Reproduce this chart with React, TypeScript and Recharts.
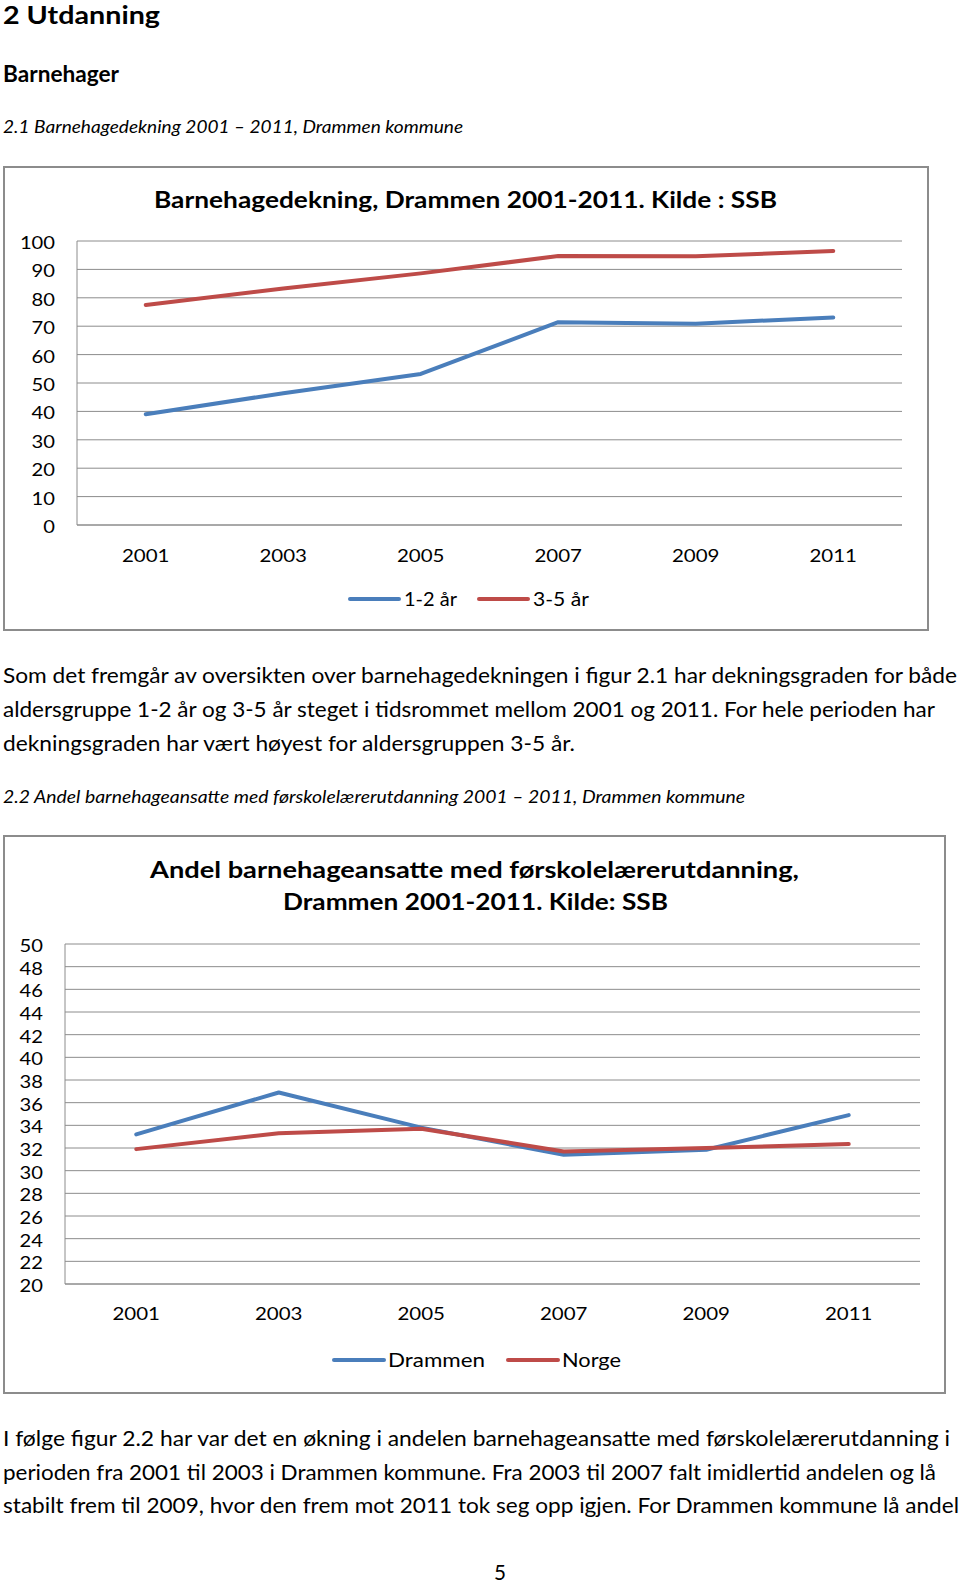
import React from "react";
import { LineChart, Line, XAxis, YAxis, CartesianGrid, Legend } from "recharts";

// figur 2.1 – barnehagedekning
const years = ["2001", "2003", "2005", "2007", "2009", "2011"];
const dekning12 = [39.0, 46.4, 53.2, 71.4, 70.9, 73.1];
const dekning35 = [77.5, 83.3, 88.6, 94.7, 94.6, 96.5];
const dekningTicks = [0, 10, 20, 30, 40, 50, 60, 70, 80, 90, 100];

// figur 2.2 – andel med førskolelærerutdanning
const drammen = [33.2, 36.9, 33.8, 31.4, 31.85, 34.9];
const norge = [31.9, 33.3, 33.7, 31.7, 32.0, 32.35];
const andelTicks = [20, 22, 24, 26, 28, 30, 32, 34, 36, 38, 40, 42, 44, 46, 48, 50];

const para1 = [
  "Som det fremgår av oversikten over barnehagedekningen i figur 2.1 har dekningsgraden for både",
  "aldersgruppe 1-2 år og 3-5 år steget i tidsrommet mellom 2001 og 2011. For hele perioden har",
  "dekningsgraden har vært høyest for aldersgruppen 3-5 år.",
];
const para1Widths = [954, 932, 572];
const para2 = [
  "I følge figur 2.2 har var det en økning i andelen barnehageansatte med førskolelærerutdanning i",
  "perioden fra 2001 til 2003 i Drammen kommune. Fra 2003 til 2007 falt imidlertid andelen og lå",
  "stabilt frem til 2009, hvor den frem mot 2011 tok seg opp igjen. For Drammen kommune lå andel",
];
const para2Widths = [947, 933, 956];

const FONT = "Lato, 'Open Sans', sans-serif";
const BLUE = "#4a7ebb";
const RED = "#be4b48";
const GRID = "#8c8c8c";

const rows1 = years.map((y, i) => ({ year: y, a: dekning12[i], b: dekning35[i] }));
const rows2 = years.map((y, i) => ({ year: y, drammen: drammen[i], norge: norge[i] }));

function T({ x, y, w, size, bold, italic, children }: any) {
  return (
    <text
      x={x}
      y={y}
      fontFamily={FONT}
      fontSize={size}
      fontWeight={bold ? 700 : 400}
      fontStyle={italic ? "italic" : "normal"}
      textLength={w}
      lengthAdjust="spacingAndGlyphs"
      fill="#000"
    >
      {children}
    </text>
  );
}

const YTick = ({ x, y, payload }: any) => {
  const s = String(payload.value);
  return (
    <text x={x} y={y} dy={8} textAnchor="end" fontFamily={FONT} fontSize={18} fill="#000"
      textLength={s.length * 11.7} lengthAdjust="spacingAndGlyphs">
      {s}
    </text>
  );
};

const XTick = ({ x, y, payload }: any) => (
  <text x={x} y={y} dy={7} textAnchor="middle" fontFamily={FONT} fontSize={18} fill="#000"
    textLength={47.5} lengthAdjust="spacingAndGlyphs">
    {payload.value}
  </text>
);

function legendContent(x0: number, textWidths: number[], lineLen: number, gap: number, itemGap: number, w: number) {
  return (props: any) => {
    let x = x0;
    const items = (props.payload ?? []).map((p: any, i: number) => {
      const lx = x;
      const tx = lx + lineLen + gap;
      x = tx + textWidths[i] + itemGap;
      return (
        <g key={p.value}>
          <line x1={lx} x2={lx + lineLen} y1={12} y2={12} stroke={p.color} strokeWidth={4} strokeLinecap="round" />
          <text x={tx} y={19} fontFamily={FONT} fontSize={19.5} fill="#000"
            textLength={textWidths[i]} lengthAdjust="spacingAndGlyphs">
            {p.value}
          </text>
        </g>
      );
    });
    return (
      <svg width={w} height={24} style={{ display: "block" }}>
        {items}
      </svg>
    );
  };
}

const boxStyle = (left: number, top: number, width: number, height: number): React.CSSProperties => ({
  position: "absolute",
  left,
  top,
  width,
  height,
  border: `2px solid ${GRID}`,
  boxSizing: "border-box",
});

export default function App() {
  return (
    <div style={{ position: "absolute", left: 0, top: 0, width: 960, height: 1584, background: "#fff" }}>
      <svg width={960} height={1584} style={{ position: "absolute", left: 0, top: 0 }}>
        <T x={3} y={24} w={157} size={25} bold>2 Utdanning</T>
        <T x={3} y={82} w={116} size={23} bold>Barnehager</T>
        <T x={3} y={133} w={460} size={17} italic>2.1 Barnehagedekning 2001 – 2011, Drammen kommune</T>

        <T x={154} y={208} w={623} size={23} bold>Barnehagedekning, Drammen 2001-2011. Kilde : SSB</T>

        {para1.map((l, i) => (
          <T key={l} x={3} y={683 + i * 34} w={para1Widths[i]} size={22}>{l}</T>
        ))}
        <T x={3} y={803} w={742} size={17} italic>
          2.2 Andel barnehageansatte med førskolelærerutdanning 2001 – 2011, Drammen kommune
        </T>

        <T x={150} y={878} w={649} size={23} bold>Andel barnehageansatte med førskolelærerutdanning,</T>
        <T x={283} y={910} w={385} size={23} bold>Drammen 2001-2011. Kilde: SSB</T>

        {para2.map((l, i) => (
          <T key={l} x={3} y={1446 + i * 33.7} w={para2Widths[i]} size={22}>{l}</T>
        ))}
        <T x={494} y={1580} w={12} size={22}>5</T>
      </svg>

      {/* figur 2.1 */}
      <div style={boxStyle(3, 166, 926, 465)}>
        <LineChart width={922} height={461} data={rows1} margin={{ top: 73, right: 25, bottom: 64, left: 0 }}>
          <CartesianGrid vertical={false} stroke={GRID} strokeWidth={1} />
          <XAxis dataKey="year" height={40} padding={{ left: 68.75, right: 68.75 }} tickLine={false}
            tickSize={0} tickMargin={30} axisLine={{ stroke: GRID }} tick={<XTick />} interval={0} />
          <YAxis width={72} domain={[0, 100]} ticks={dekningTicks} tickLine={false} tickSize={0}
            tickMargin={22} axisLine={{ stroke: GRID }} tick={<YTick />} interval={0} />
          <Line dataKey="a" name="1-2 år" stroke={BLUE} strokeWidth={4} dot={false}
            strokeLinecap="round" strokeLinejoin="round" isAnimationActive={false} />
          <Line dataKey="b" name="3-5 år" stroke={RED} strokeWidth={4} dot={false}
            strokeLinecap="round" strokeLinejoin="round" isAnimationActive={false} />
          <Legend layout="horizontal" verticalAlign="middle" align="center"
            wrapperStyle={{ left: 0, top: 419, width: 922, height: 24 }}
            content={legendContent(345, [53, 56], 49, 5, 22, 922)} />
        </LineChart>
      </div>

      {/* figur 2.2 */}
      <div style={boxStyle(3, 835, 943, 559)}>
        <LineChart width={939} height={555} data={rows2} margin={{ top: 107, right: 24, bottom: 68, left: 0 }}>
          <CartesianGrid vertical={false} stroke={GRID} strokeWidth={1} />
          <XAxis dataKey="year" height={40} padding={{ left: 71.25, right: 71.25 }} tickLine={false}
            tickSize={0} tickMargin={29} axisLine={{ stroke: GRID }} tick={<XTick />} interval={0} />
          <YAxis width={60} domain={[20, 50]} ticks={andelTicks} tickLine={false} tickSize={0}
            tickMargin={22} axisLine={{ stroke: GRID }} tick={<YTick />} interval={0} />
          <Line dataKey="drammen" name="Drammen" stroke={BLUE} strokeWidth={4} dot={false}
            strokeLinecap="round" strokeLinejoin="round" isAnimationActive={false} />
          <Line dataKey="norge" name="Norge" stroke={RED} strokeWidth={4} dot={false}
            strokeLinecap="round" strokeLinejoin="round" isAnimationActive={false} />
          <Legend layout="horizontal" verticalAlign="middle" align="center"
            wrapperStyle={{ left: 0, top: 511, width: 939, height: 24 }}
            content={legendContent(329, [97, 59], 50, 4, 23, 939)} />
        </LineChart>
      </div>
    </div>
  );
}
